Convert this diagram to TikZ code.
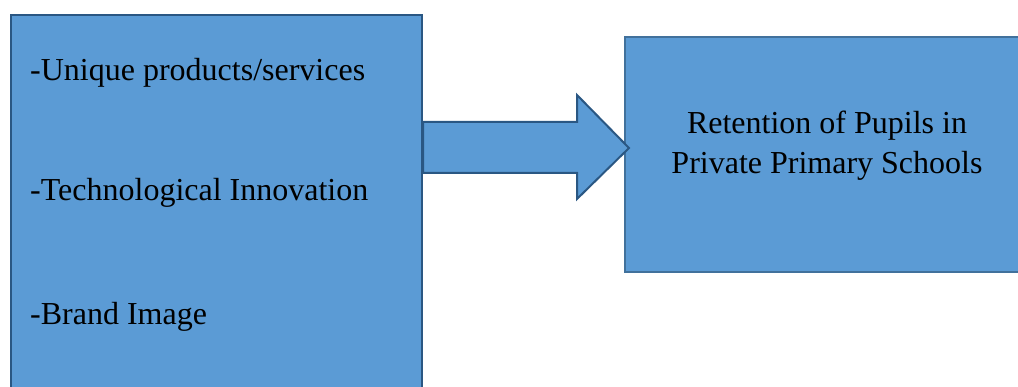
\documentclass[tikz,border=0pt]{standalone}
\usepackage{fontspec}
\setmainfont{Liberation Serif}
\usepackage{tikz}
\usetikzlibrary{positioning}

\definecolor{boxfill}{HTML}{5B9BD5}
\definecolor{boxline}{HTML}{41719C}
\definecolor{darkline}{HTML}{2A5783}

\tikzset{
  factorbox/.style={draw=darkline, line width=2pt, fill=boxfill, anchor=north west, inner sep=0pt},
  outcomebox/.style={draw=boxline, line width=2pt, fill=boxfill, anchor=north west, inner sep=0pt},
  item/.style={anchor=base west, inner sep=0pt, font=\fontsize{32}{40}\selectfont},
  blockarrow/.style={draw=darkline, line width=2pt, fill=boxfill, line join=miter}
}

\begin{document}
\begin{tikzpicture}[x=1pt,y=-1pt]
\useasboundingbox (0,0) rectangle (1018,387);

\node[factorbox, minimum width=411pt, minimum height=400pt] (factors) at (10,14) {};
\node[outcomebox, minimum width=406pt, minimum height=235pt] (retention) at (624,36) {};

\node[item] (unique) at (30,81) {-Unique products/services};
\node[item] (tech) at (30,201) {-Technological Innovation};
\node[item] (brand) at (30,325) {-Brand Image};

\node[align=center, inner sep=0pt, font=\fontsize{32}{40}\selectfont] (pupils) at (827,146) {Retention of Pupils in\\Private Primary Schools};

% block arrow from the factors to the outcome
\draw[blockarrow] (factors.east |- 0,122) -- (577,122) -- (577,95)
  -- ([xshift=5pt]retention.west |- 0,148) -- (577,199) -- (577,173)
  -- (factors.east |- 0,173) -- cycle;

\end{tikzpicture}
\end{document}
